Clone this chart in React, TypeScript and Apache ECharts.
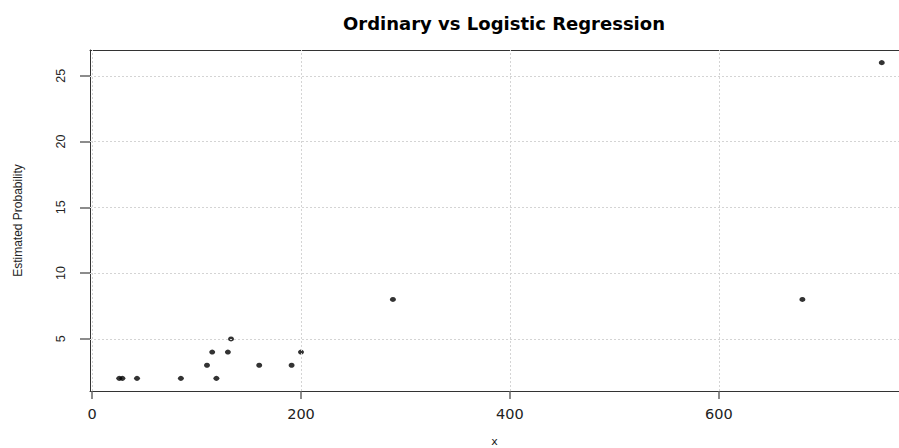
import React, { useEffect, useRef } from "react";
import * as echarts from "echarts";

// Observed points
const xValues = [26, 29, 43, 85, 110, 115, 119, 130, 133, 160, 191, 200, 288, 680, 756];
const yValues = [2, 2, 2, 2, 3, 4, 2, 4, 5, 3, 3, 4, 8, 8, 26];

// Axis ticks
const xTicks = [0, 200, 400, 600];
const yTicks = [5, 10, 15, 20, 25];

const TITLE = "Ordinary vs Logistic Regression";
const X_NAME = "x";
const Y_NAME = "Estimated Probability";

export default function App() {
  const ref = useRef<HTMLDivElement>(null);

  useEffect(() => {
    if (!ref.current) return;
    const chart = echarts.init(ref.current, undefined, { renderer: "svg" });

    const gridLine = {
      color: "#d4d4d4",
      type: [2, 2] as number[],
      width: 1,
    };
    const frame = { color: "#333", width: 1 };

    // The plot frame runs past the right edge of the page, so only the
    // left, bottom and top sides are drawn.
    const X_MIN = -2;
    const X_MAX = 772.5;

    chart.setOption({
      animation: false,
      backgroundColor: "#ffffff",
      title: {
        text: TITLE,
        left: 499,
        top: 9,
        textAlign: "center",
        textStyle: {
          fontFamily: "DejaVu Sans",
          fontWeight: "bold",
          fontSize: 18,
          color: "#000",
        },
      },
      grid: {
        left: 90,
        top: 50,
        right: 0,
        height: 341,
        outerBoundsMode: "none",
      },
      xAxis: [
        {
          type: "value",
          min: X_MIN,
          max: X_MAX,
          position: "bottom",
          name: X_NAME,
          nameLocation: "middle",
          nameGap: 45,
          nameTextStyle: { fontFamily: "DejaVu Sans", fontSize: 11, color: "#222" },
          axisLine: { show: true, onZero: false, lineStyle: frame },
          axisTick: {
            show: true,
            length: 8,
            customValues: xTicks,
            lineStyle: { color: "#666", width: 1.5 },
          },
          axisLabel: {
            customValues: xTicks,
            margin: 15,
            fontFamily: "DejaVu Sans",
            fontSize: 14.5,
            color: "#222",
          },
          splitLine: { show: false },
        },
        {
          type: "value",
          min: X_MIN,
          max: X_MAX,
          position: "top",
          axisLine: { show: true, onZero: false, lineStyle: frame },
          axisTick: { show: false },
          axisLabel: { show: false },
          splitLine: { show: false },
        },
      ],
      yAxis: {
        type: "value",
        min: 1.04,
        max: 26.96,
        name: Y_NAME,
        nameLocation: "middle",
        nameGap: 66,
        nameTextStyle: { fontFamily: "Liberation Sans", fontSize: 12, color: "#222" },
        axisLine: { show: true, onZero: false, lineStyle: frame },
        axisTick: {
          show: true,
          length: 10,
          customValues: yTicks,
          lineStyle: { color: "#666", width: 1.5 },
        },
        axisLabel: {
          customValues: yTicks,
          rotate: 90,
          margin: 23,
          fontFamily: "Liberation Sans",
          fontSize: 12.5,
          color: "#222",
        },
        splitLine: { show: false },
      },
      series: [
        {
          type: "scatter",
          z: 1,
          data: [],
          silent: true,
          markLine: {
            silent: true,
            symbol: "none",
            label: { show: false },
            lineStyle: gridLine,
            emphasis: { disabled: true },
            data: [
              ...xTicks.map((v) => ({ xAxis: v })),
              ...yTicks.map((v) => ({ yAxis: v })),
            ],
          },
        },
        {
          type: "scatter",
          z: 3,
          symbol: "circle",
          symbolSize: [6, 5],
          itemStyle: { color: "#000" },
          data: xValues.map((x, i) => [x, yValues[i]]),
        },
      ],
    });

    return () => chart.dispose();
  }, []);

  return (
    <div
      ref={ref}
      style={{ position: "absolute", left: 0, top: 0, width: 899, height: 448 }}
    />
  );
}
